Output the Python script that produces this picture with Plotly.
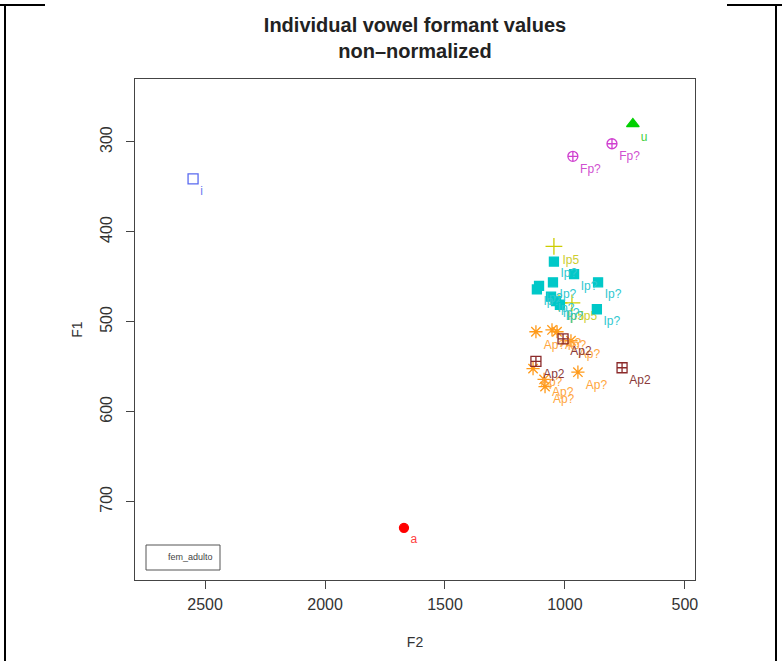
import plotly.graph_objects as go

# ---- data (F2, F1 in Hz) ----
i_f2 = [2550]; i_f1 = [341]
a_f2 = [1671]; a_f1 = [729]
u_f2 = [717]; u_f1 = [280]
fp_f2 = [967, 804]; fp_f1 = [316, 302]
ip5_f2 = [1046, 971, 1025]; ip5_f1 = [416, 479, 479]
ipq_f2 = [1046, 962, 862, 1050, 1108, 1117, 1058, 1037, 1021, 867]
ipq_f1 = [433, 447, 456, 456, 460, 464, 472, 477, 481, 486]
apq_f2 = [1121, 1054, 1033, 975, 1133, 1087, 1083, 946]
apq_f1 = [511, 509, 511, 521, 552, 564, 572, 556]
ap2_f2 = [1008, 1121, 762]
ap2_f1 = [519, 544, 551]

x_ticks = [2500, 2000, 1500, 1000, 500]
y_ticks = [300, 400, 500, 600, 700]

series = [
    ("Ip5", ip5_f2, ip5_f1, "cross-thin-open", "#CDCD00", "#CDCD30", 12),
    ("Ip?", ipq_f2, ipq_f1, "square", "#00C8C8", "#30C8D0", 9),
    ("Ap?", apq_f2, apq_f1, "asterisk-open", "#FF9A1A", "#FFA640", 11),
    ("Ap2", ap2_f2, ap2_f1, "square-cross-open", "#8B2A2A", "#8B3A3A", 10),
    ("Fp?", fp_f2, fp_f1, "circle-cross-open", "#D040D0", "#D050D0", 10),
    ("u", u_f2, u_f1, "triangle-up", "#00D000", "#40D040", 11),
    ("i", i_f2, i_f1, "square-open", "#5A6AF0", "#6A7AF0", 10),
    ("a", a_f2, a_f1, "circle", "#FF0000", "#FF4040", 9),
]

fig = go.Figure()
for name, xs, ys, sym, col, tcol, sz in series:
    fig.add_trace(go.Scatter(
        x=xs, y=ys, mode="markers+text", name=name,
        text=[name] * len(xs), textposition="bottom right",
        textfont=dict(family="Liberation Sans, Arial", size=12, color=tcol),
        marker=dict(symbol=sym, size=sz, color=col,
                    line=dict(color=col, width=1.3)),
        showlegend=False, cliponaxis=False,
    ))

L, R, T, B = 135, 695, 79, 580
W, H = 782, 661


def px(xp):
    return (xp - L) / (R - L)


def py(yp):
    return (B - yp) / (B - T)


shapes = [
    # outer frame of the image
    dict(type="line", xref="paper", yref="paper", x0=px(0), x1=px(45), y0=py(5), y1=py(5),
         line=dict(color="black", width=2)),
    dict(type="line", xref="paper", yref="paper", x0=px(727), x1=px(782), y0=py(5), y1=py(5),
         line=dict(color="black", width=2)),
    dict(type="line", xref="paper", yref="paper", x0=px(5), x1=px(5), y0=py(4), y1=py(661),
         line=dict(color="black", width=2)),
    dict(type="line", xref="paper", yref="paper", x0=px(776), x1=px(776), y0=py(4), y1=py(661),
         line=dict(color="black", width=2)),
    # legend box
    dict(type="rect", xref="paper", yref="paper", x0=px(146), x1=px(220), y0=py(570), y1=py(545),
         line=dict(color="#555555", width=1), fillcolor="white"),
]

fig.update_layout(
    width=W, height=H,
    margin=dict(l=L, r=W - R, t=T, b=H - B),
    paper_bgcolor="white", plot_bgcolor="white",
    font=dict(family="Liberation Sans, Arial", color="#333333"),
    title=dict(text="<b>Individual vowel formant values<br>non\u2013normalized</b>",
               x=0.5, xanchor="center", xref="paper", y=1 - 32 / H, yanchor="top",
               font=dict(size=20, color="#222222")),
    shapes=shapes,
    annotations=[dict(xref="paper", yref="paper", x=px(215), y=py(557), xanchor="right",
                      yanchor="middle", text="fem_adulto", showarrow=False,
                      font=dict(size=9, color="#444444"))],
)
fig.update_xaxes(range=[2792, 458], tickvals=x_ticks, ticktext=[str(v) for v in x_ticks],
                 showgrid=False, zeroline=False, showline=True, mirror=True,
                 linecolor="#444444", linewidth=1, ticks="outside", ticklen=8,
                 tickcolor="#444444", tickfont=dict(size=16, color="#333333"),
                 ticklabelstandoff=2,
                 title=dict(text="F2", font=dict(size=14, color="#333333"), standoff=24))
fig.update_yaxes(range=[787, 230], tickvals=y_ticks, ticktext=[str(v) for v in y_ticks],
                 showgrid=False, zeroline=False, showline=True, mirror=True,
                 linecolor="#444444", linewidth=1, ticks="outside", ticklen=8,
                 tickcolor="#444444", tickangle=-90, tickfont=dict(size=16, color="#333333"),
                 ticklabelstandoff=8,
                 title=dict(text="F1", font=dict(size=14, color="#333333"), standoff=11))

fig.write_html("out.html", config={"displayModeBar": False},
               post_script="document.body.style.margin='0';")
